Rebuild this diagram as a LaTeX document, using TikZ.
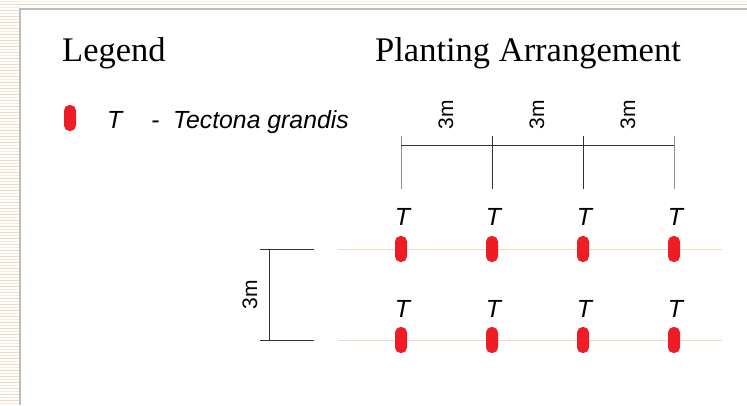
\documentclass[tikz,border=0pt]{standalone}
\usepackage{fontspec}
\setmainfont{Liberation Serif}
\newfontfamily\labfont{Liberation Sans}
\definecolor{peach}{HTML}{F5D6B6}
\definecolor{peachlight}{HTML}{FAEADB}
\definecolor{treered}{HTML}{EE1C25}
\definecolor{rowline}{HTML}{F3D9C0}
\definecolor{panelborder}{HTML}{BDBDBD}
\tikzset{
  pill/.style={fill=treered, rounded corners=5.5pt, minimum width=12pt, minimum height=26pt, inner sep=0pt},
  tlab/.style={font=\labfont\itshape\fontsize{24.8}{28}\selectfont, inner sep=0pt},
  title/.style={font=\fontsize{34.5}{40}\selectfont, inner sep=0pt, anchor=base west},
  dimline/.style={draw=black!80, line width=0.9pt},
  dimtext/.style={font=\labfont\fontsize{21}{24}\selectfont, rotate=90, inner sep=0pt},
  rowln/.style={draw=rowline, line width=1pt}
}
\begin{document}
\begin{tikzpicture}[x=1pt,y=-1pt]
\useasboundingbox (0,0) rectangle (747,405);
% striped background
\foreach \y [count=\i] in {1.5,4.5,...,405} {
  \pgfmathparse{mod(\i,2)==0 ? 1 : 0}
  \ifnum\pgfmathresult=1 \draw[peach, line width=1pt] (0,\y) -- (19,\y);
  \else \draw[peachlight, line width=1pt] (0,\y) -- (19,\y); \fi
}
\draw[peachlight, line width=1pt] (19,1.5) -- (747,1.5);
\draw[peach, line width=1pt] (19,4.5) -- (747,4.5);
% panel
\fill[white] (19,8) rectangle (747,405);
\draw[panelborder, line width=2pt] (20,405) -- (20,9) -- (747,9);

% titles
\node[title] (legend) at (62,61) {Legend};
\node[title] (plant) at (375,61) {Planting Arrangement};

% legend entry
\node[pill] (lp) at (70,118) {};
\node[tlab, anchor=base west] (lt) at (107,128) {T};
\node[tlab, anchor=base west] (ldash) at (151,128) {-};
\node[tlab, anchor=base west] (lname) at (173,128) {Tectona grandis};

% top dimension
\coordinate (a1) at (401,136); \coordinate (b1) at (401,189);
\coordinate (a2) at (492,136); \coordinate (b2) at (492,189);
\coordinate (a3) at (583,136); \coordinate (b3) at (583,189);
\coordinate (a4) at (674,136); \coordinate (b4) at (674,189);
\coordinate (h1) at (401,145); \coordinate (h4) at (674,145);
\draw[draw=black!45, line width=0.9pt] (a1) -- (b1);
\draw[dimline] (a2) -- (b2);
\draw[dimline] (a3) -- (b3);
\draw[draw=black!45, line width=0.9pt] (a4) -- (b4);
\draw[dimline] (h1) -- (h4);
\node[dimtext] (m1) at (446,115) {3m};
\node[dimtext] (m2) at (537,115) {3m};
\node[dimtext] (m3) at (628,115) {3m};

% left dimension
\coordinate (l1a) at (260,249); \coordinate (l1b) at (314,249);
\coordinate (l2a) at (260,340); \coordinate (l2b) at (314,340);
\coordinate (lv1) at (269,249); \coordinate (lv2) at (269,340);
\draw[dimline] (l1a) -- (l1b);
\draw[dimline] (l2a) -- (l2b);
\draw[dimline] (lv1) -- (lv2);
\node[dimtext] (m4) at (250,295) {3m};

% row lines
\coordinate (r1a) at (338,249); \coordinate (r1b) at (722,249);
\coordinate (r2a) at (338,340); \coordinate (r2b) at (722,340);
\draw[rowln] (r1a) -- (r1b);
\draw[rowln] (r2a) -- (r2b);

% trees
\foreach \x [count=\c] in {401,492,583,674} {
  \node[pill] (p1\c) at (\x,249) {};
  \node[tlab] (t1\c) at (\x+1.5,217) {T};
  \node[pill] (p2\c) at (\x,340) {};
  \node[tlab] (t2\c) at (\x+1.5,309) {T};
}
\end{tikzpicture}
\end{document}
